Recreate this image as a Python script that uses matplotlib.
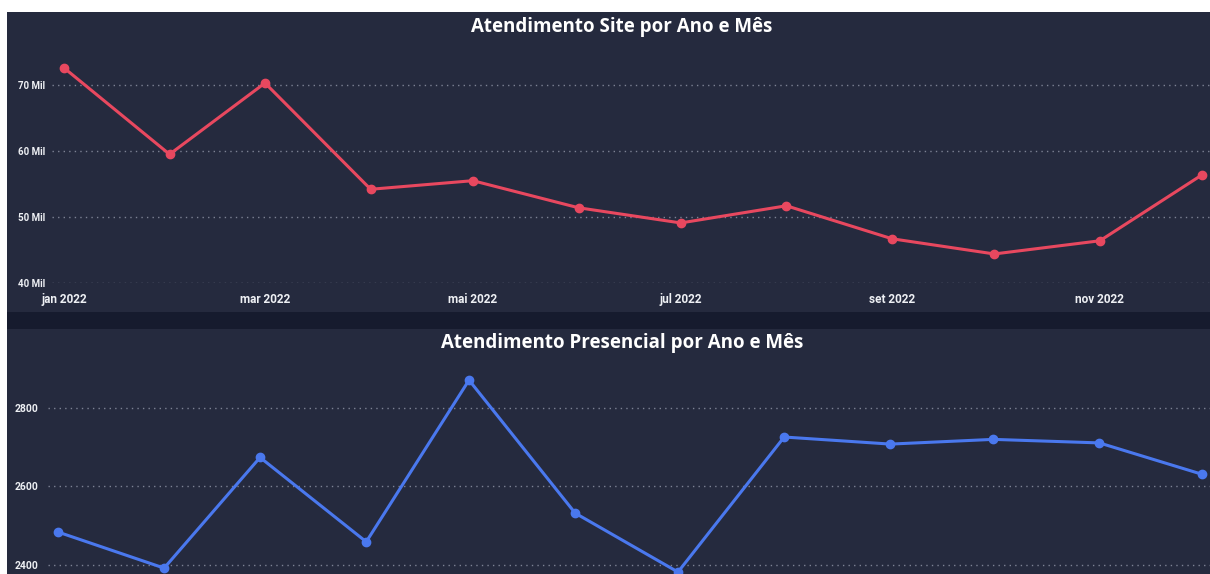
import matplotlib

matplotlib.use("Agg")
import matplotlib.pyplot as plt
import pandas as pd
from matplotlib.patches import Rectangle

# ---------------------------------------------------------------------------
# Data
# ---------------------------------------------------------------------------
months = pd.to_datetime([
    "2022-01-01", "2022-02-01", "2022-03-01", "2022-04-01",
    "2022-05-01", "2022-06-01", "2022-07-01", "2022-08-01",
    "2022-09-01", "2022-10-01", "2022-11-01", "2022-12-01",
])
site_values = [72600, 59500, 70300, 54200, 55500, 51400,
               49100, 51700, 46700, 44400, 46400, 56400]
presencial_values = [2484, 2392, 2674, 2459, 2871, 2532,
                     2382, 2726, 2708, 2720, 2711, 2631]

tick_dates = pd.to_datetime(["2022-01-01", "2022-03-01", "2022-05-01",
                             "2022-07-01", "2022-09-01", "2022-11-01"])
tick_labels = ["jan 2022", "mar 2022", "mai 2022", "jul 2022", "set 2022", "nov 2022"]

site_yticks = [40000, 50000, 60000, 70000]
site_ylabels = ["40 Mil", "50 Mil", "60 Mil", "70 Mil"]
pres_yticks = [2400, 2600, 2800]

# ---------------------------------------------------------------------------
# Style
# ---------------------------------------------------------------------------
W, H = 1210, 574
PANEL = "#252a3e"
SEP = "#161b2e"
RED = "#e8485f"
BLUE = "#4a78ee"
GRID = "#7d8294"
TEXT = "#eef0f4"
TITLE_FONT = ["Open Sans", "DejaVu Sans"]

plt.rcParams["font.family"] = ["Roboto", "DejaVu Sans"]


def frac_box(left, top, right, bottom):
    """Pixel box -> figure fraction [l, b, w, h]."""
    return [left / W, 1 - bottom / H, (right - left) / W, (bottom - top) / H]


fig = plt.figure(figsize=(W / 100, H / 100), dpi=100, facecolor="white")

# panel backgrounds, kept under the axes
for (l, t, r, b, c) in [(7, 12, W, 312, PANEL), (7, 312, W, 329, SEP), (7, 329, W, H, PANEL)]:
    x, y, w, h = frac_box(l, t, r, b)
    fig.patches.append(Rectangle((x, y), w, h, transform=fig.transFigure,
                                 facecolor=c, edgecolor="none", zorder=-10))


def style_axes(ax):
    ax.set_facecolor("none")
    for s in ax.spines.values():
        s.set_visible(False)
    ax.tick_params(length=0, colors=TEXT)
    ax.grid(axis="y", color=GRID, linestyle=(0, (1, 3)), linewidth=1)
    ax.grid(axis="x", visible=False)
    ax.set_axisbelow(True)


# top chart
ax1 = fig.add_axes(frac_box(52, 50, W, 283))
style_axes(ax1)
ax1.plot(months, site_values, color=RED, linewidth=2.2, marker="o", markersize=6)
ax1.set_ylim(40000, 75300)
ax1.set_yticks(site_yticks)
ax1.set_yticklabels(site_ylabels, fontsize=7, fontweight="bold")
ax1.set_xlim(months[0] - pd.Timedelta(days=3.5), months[-1] + pd.Timedelta(days=2.3))
ax1.set_xticks(tick_dates)
ax1.set_xticklabels(tick_labels, fontsize=8.5, fontweight="bold")
ax1.tick_params(axis="y", pad=5)
ax1.tick_params(axis="x", pad=7)
fig.text(622 / W, 1 - 27 / H, "Atendimento Site por Ano e Mês", ha="center", va="center",
         color="white", fontsize=13.5, fontweight="bold", family=TITLE_FONT)

# bottom chart
ax2 = fig.add_axes(frac_box(48, 365, W, H))
style_axes(ax2)
ax2.plot(months, presencial_values, color=BLUE, linewidth=2.2, marker="o", markersize=6)
ax2.set_ylim(2377, 2909.5)
ax2.set_yticks(pres_yticks)
ax2.set_yticklabels([str(v) for v in pres_yticks], fontsize=7.5, fontweight="bold")
ax2.set_xlim(months[0] - pd.Timedelta(days=2.9), months[-1] + pd.Timedelta(days=2.3))
ax2.set_xticks([])
ax2.tick_params(axis="y", pad=7)
fig.text(622 / W, 1 - 343 / H, "Atendimento Presencial por Ano e Mês", ha="center", va="center",
         color="white", fontsize=13.5, fontweight="bold", family=TITLE_FONT)

fig.savefig("out.png", dpi=100, facecolor="white")
